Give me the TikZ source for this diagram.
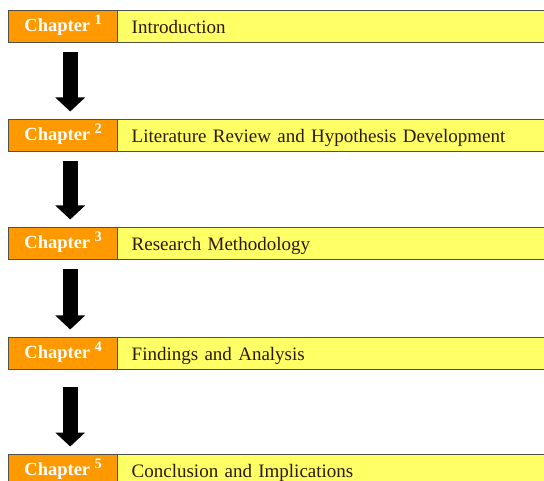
\documentclass[tikz,border=0pt]{standalone}
\usepackage{fontspec}
\setmainfont{Liberation Serif}
\usetikzlibrary{arrows.meta}
\definecolor{chorange}{RGB}{255,153,0}
\definecolor{chyellow}{RGB}{255,255,102}
\definecolor{bordergray}{RGB}{80,80,75}
\definecolor{titlebrown}{RGB}{50,22,5}
\newcommand{\chapnum}[1]{Chapter\hspace{4.5pt}\raisebox{7pt}{\fontsize{14.5}{15}\selectfont #1}}
\begin{document}
\begin{tikzpicture}[x=1pt,y=-1pt,
  chapbox/.style={draw=bordergray, line width=1.4pt, fill=chorange, minimum width=109pt,
    minimum height=32pt, inner sep=0pt, anchor=north west, text=white,
    text height=15pt, text depth=5pt,
    font=\fontsize{18.5}{20}\selectfont\bfseries},
  titlebox/.style={draw=bordergray, line width=1.4pt, fill=chyellow, anchor=north west,
    minimum height=32pt, text width=440pt, align=left, inner xsep=14pt, inner ysep=0pt,
    text height=18pt, text depth=4pt, text=titlebrown,
    font=\fontsize{19}{21}\selectfont},
  bigarrow/.style={line width=15pt, black, -{Triangle[width=29pt,length=14pt]}}
]
\clip (0,0) rectangle (544,481);
\fill[white] (0,0) rectangle (544,481);
\foreach \i/\top/\title in {1/10/Introduction,
  2/119/Literature Review and Hypothesis Development,
  3/227/Research Methodology,
  4/337/Findings and Analysis,
  5/454/Conclusion and Implications}{
  \node[titlebox] (t\i) at (117,\top) {\title};
  \node[chapbox] (c\i) at (8,\top) {\chapnum{\i}};
}
\draw[bigarrow, shorten <=9pt, shorten >=7.5pt] ([xshift=7pt]c1.south) -- ([xshift=7pt]c2.north);
\draw[bigarrow, shorten <=9pt, shorten >=7.5pt] ([xshift=7pt]c2.south) -- ([xshift=7pt]c3.north);
\draw[bigarrow, shorten <=9pt, shorten >=7.5pt] ([xshift=7pt]c3.south) -- ([xshift=7pt]c4.north);
\draw[bigarrow, shorten <=17pt, shorten >=7.5pt] ([xshift=7pt]c4.south) -- ([xshift=7pt]c5.north);
\end{tikzpicture}
\end{document}
